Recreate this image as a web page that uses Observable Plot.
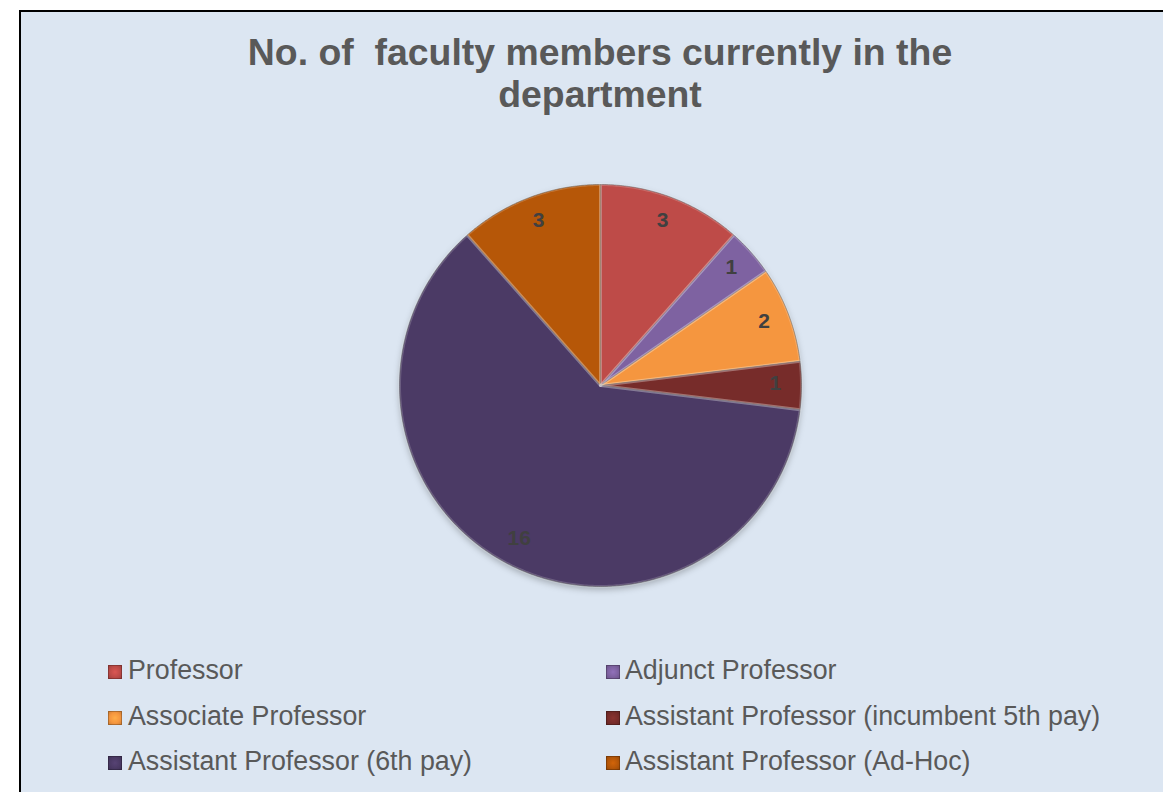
<!DOCTYPE html>
<html>
<head>
<meta charset="utf-8">
<script src="https://cdn.jsdelivr.net/npm/d3@7"></script>
<script src="https://cdn.jsdelivr.net/npm/@observablehq/plot@0.6"></script>
<style>
  html, body { margin: 0; padding: 0; background: #ffffff; overflow: hidden; width: 1163px; height: 792px; }
  #frame { position: absolute; left: 19px; top: 10px; width: 1200px; height: 820px;
           background: #DCE6F2; border-left: 2px solid #000; border-top: 2px solid #000; }
  #title { position: absolute; left: 0; top: 31px; width: 1200px; text-align: center;
           font-family: "Liberation Sans", Arial, sans-serif; font-weight: bold; font-size: 37.4px;
           line-height: 42px; color: #595959; }
  #chart { position: absolute; left: 0; top: 165px; }
  .leg { position: absolute; font-family: "Liberation Sans", Arial, sans-serif; font-size: 26.8px;
         line-height: 26px; color: #595959; white-space: nowrap; }
  .sw { position: absolute; width: 12px; height: 12px; border: 1px solid rgba(0,0,0,0.25); }
</style>
</head>
<body>
<div id="frame"></div>
<div id="title">No. of&nbsp; faculty members currently in the<br>department</div>
<div id="chart"></div>
<div id="legend"></div>
<script>
// ---- data ----
const categories = [
  "Professor",
  "Adjunct Professor",
  "Associate Professor",
  "Assistant Professor (incumbent 5th pay)",
  "Assistant Professor (6th pay)",
  "Assistant Professor (Ad-Hoc)"
];
const counts = [3, 1, 2, 1, 16, 3];
const colors = ["#BE4B48", "#7E62A1", "#F5963F", "#772C2A", "#4B3A65", "#B65708"];
const legendOrder = [
  ["Professor", "Adjunct Professor"],
  ["Associate Professor", "Assistant Professor (incumbent 5th pay)"],
  ["Assistant Professor (6th pay)", "Assistant Professor (Ad-Hoc)"]
];

// ---- geometry from data ----
const R = 1.005;
const arcs = d3.pie().sort(null).value(d => d)(counts);
const slices = arcs.flatMap((a, i) => {
  const name = categories[i];
  const pts = [{name, x: 0, y: 0}];
  const n = Math.max(4, Math.ceil((a.endAngle - a.startAngle) / 0.01));
  for (let k = 0; k <= n; k++) {
    const t = a.startAngle + (a.endAngle - a.startAngle) * k / n;
    pts.push({name, x: R * Math.sin(t), y: R * Math.cos(t)});
  }
  return pts;
});
const labels = arcs.map((a, i) => {
  const m = (a.startAngle + a.endAngle) / 2;
  return {name: categories[i], value: counts[i], x: 0.87 * R * Math.sin(m), y: 0.87 * R * Math.cos(m)};
});

const W = 1163, H = 440, PX = 200; // pixels per unit
const svg = Plot.plot({
  width: W, height: H, margin: 0,
  x: {domain: [-600 / PX, (W - 600) / PX], axis: null},
  y: {domain: [-H / 2 / PX, H / 2 / PX], axis: null},
  color: {domain: categories, range: colors},
  style: {background: "transparent", overflow: "visible"},
  marks: [
    Plot.line(slices, {x: "x", y: "y", z: "name", fill: "name", stroke: "#2a2a2a",
      strokeOpacity: 0.45, strokeWidth: 1, curve: "linear-closed"}),
    Plot.line(slices, {x: "x", y: "y", z: "name", stroke: "#ffffff",
      strokeOpacity: 0.18, strokeWidth: 3, curve: "linear-closed"}),
    Plot.text(labels, {x: "x", y: "y", text: "value", fontSize: 21, fontWeight: "bold",
      fontFamily: "Liberation Sans, Arial, sans-serif", fill: "#404040", dy: -2})
  ]
});
const lines = d3.select(svg).selectAll('g[aria-label="line"]');
d3.select(lines.nodes()[0]).style("filter", "drop-shadow(0px 3px 3px rgba(0,0,0,0.25))");
document.getElementById("chart").appendChild(svg);

// ---- legend ----
const leg = document.getElementById("legend");
const colX = [[108, 128], [606, 625]];
const baselines = [679, 725, 770];
legendOrder.forEach((row, r) => {
  row.forEach((name, c) => {
    const col = colors[categories.indexOf(name)];
    const sw = document.createElement("div");
    sw.className = "sw";
    sw.style.left = colX[c][0] + "px";
    sw.style.top = (baselines[r] - 14) + "px";
    sw.style.background = `radial-gradient(circle at 50% 50%, ${d3.color(col).brighter(0.4)} 0%, ${col} 60%, ${d3.color(col).darker(0.4)} 100%)`;
    leg.appendChild(sw);
    const t = document.createElement("div");
    t.className = "leg";
    t.textContent = name;
    t.style.left = colX[c][1] + "px";
    t.style.top = (baselines[r] - 22) + "px";
    leg.appendChild(t);
  });
});
</script>
</body>
</html>
